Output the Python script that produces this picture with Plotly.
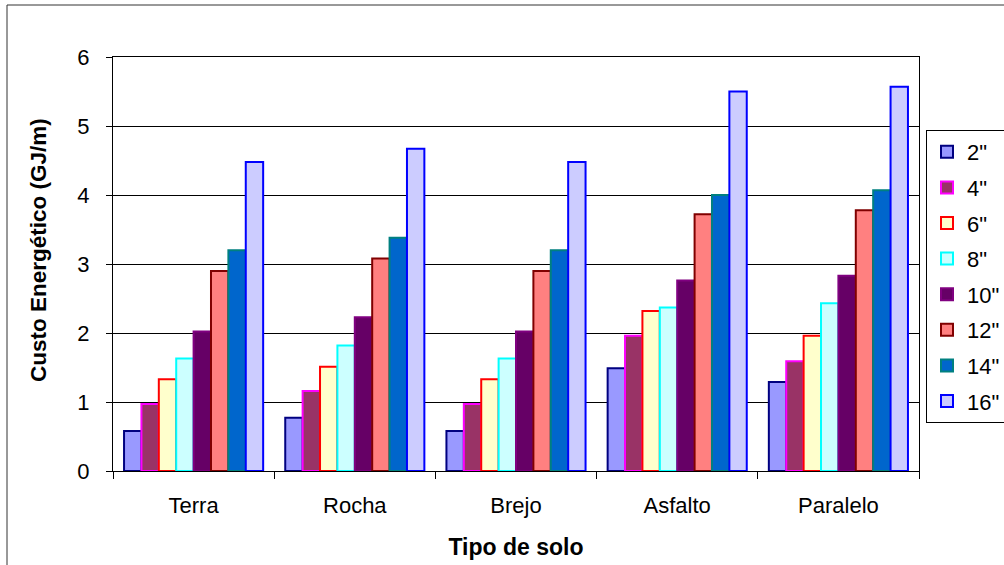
import plotly.graph_objects as go

categories = ["Terra", "Rocha", "Brejo", "Asfalto", "Paralelo"]
series_names = ['2"', '4"', '6"', '8"', '10"', '12"', '14"', '16"']

# values per soil type, one entry per diameter (2" .. 16")
terra = [0.58, 0.97, 1.33, 1.63, 2.02, 2.90, 3.20, 4.48]
rocha = [0.77, 1.16, 1.51, 1.82, 2.23, 3.08, 3.38, 4.67]
brejo = [0.58, 0.97, 1.33, 1.63, 2.02, 2.90, 3.20, 4.48]
asfalto = [1.49, 1.96, 2.32, 2.37, 2.76, 3.72, 4.00, 5.50]
paralelo = [1.29, 1.59, 1.96, 2.43, 2.83, 3.78, 4.07, 5.57]

fills = ["#9999FF", "#993366", "#FFFFCC", "#CCFFFF", "#660066", "#FF8080", "#0066CC", "#CCCCFF"]
borders = ["#000080", "#FF00FF", "#FF0000", "#00FFFF", "#800080", "#800000", "#008080", "#0000FF"]

y_ticks = [0, 1, 2, 3, 4, 5, 6]

FONT = "Arial, 'Liberation Sans', sans-serif"

rows = [terra, rocha, brejo, asfalto, paralelo]
fig = go.Figure()
for i, name in enumerate(series_names):
    fig.add_trace(go.Bar(
        x=categories,
        y=[r[i] for r in rows],
        name=name,
        legendgroup=name,
        marker=dict(color=fills[i], line=dict(color=borders[i], width=2)),
    ))

W, H = 1004, 565
L, R, T, B = 113, 85, 57, 94
PW, PH = W - L - R, H - T - B


def px_x(p):
    return (p - L) / PW


def px_y(p):
    return 1 - (p - T) / PH


fig.update_layout(
    width=W, height=H,
    margin=dict(l=L, r=R, t=T, b=B, autoexpand=False),
    paper_bgcolor="white",
    plot_bgcolor="white",
    barmode="group",
    bargap=0.137,
    bargroupgap=0,
    font=dict(family=FONT, size=22, color="black"),
    legend=dict(
        x=px_x(926), xanchor="left",
        y=px_y(130), yanchor="top",
        bordercolor="black", borderwidth=1,
        bgcolor="white",
        font=dict(family=FONT, size=22, color="black"),
        tracegroupgap=4,
        itemwidth=30,
    ),
    xaxis=dict(
        showline=True, linecolor="black", linewidth=1, mirror=True,
        ticks="outside", ticklen=7, tickcolor="black", tickson="boundaries",
        showgrid=False,
        ticklabelstandoff=15,
        title=dict(text="<b>Tipo de solo</b>", font=dict(family=FONT, size=23), standoff=21),
        automargin=False,
    ),
    yaxis=dict(
        range=[0, 6], tickvals=y_ticks,
        showline=True, linecolor="black", linewidth=1, mirror=True,
        ticks="outside", ticklen=6, tickcolor="black",
        showgrid=True, gridcolor="black", gridwidth=1,
        zeroline=False,
        ticklabelstandoff=12,
        automargin=False,
    ),
    annotations=[dict(
        text="<b>Custo Energético (GJ/m)</b>",
        xref="paper", yref="paper",
        x=px_x(38), y=px_y(250),
        xanchor="center", yanchor="middle",
        textangle=-90, showarrow=False,
        font=dict(family=FONT, size=22.5, color="black"),
    )],
    shapes=[
        dict(
            type="rect", xref="paper", yref="paper",
            x0=px_x(7), x1=px_x(W + 10),
            y0=px_y(H + 10), y1=px_y(5),
            line=dict(color="#333333", width=1), fillcolor="rgba(0,0,0,0)",
            layer="below",
        ),
    ],
)

fig.write_html("out.html")
